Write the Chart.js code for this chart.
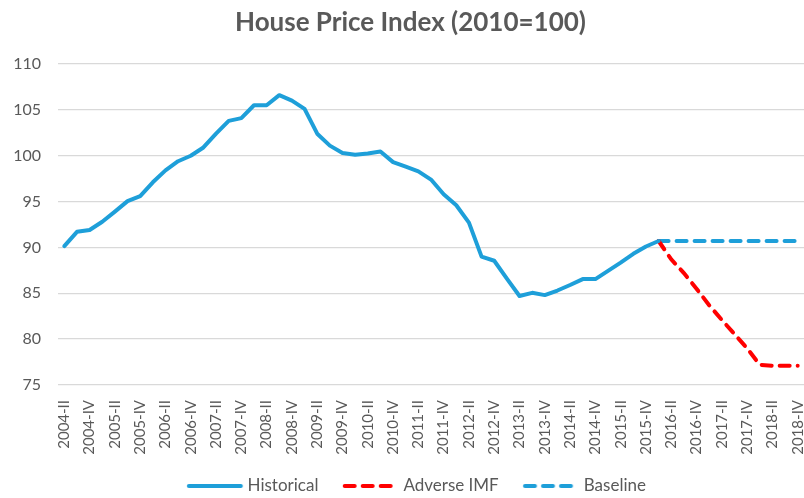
<!DOCTYPE html>
<html>
<head>
<meta charset="utf-8">
<script src="https://cdn.jsdelivr.net/npm/chart.js"></script>
<style>
  html, body { margin: 0; padding: 0; background: #fff; }
  #wrap { width: 804px; height: 498px; }
</style>
</head>
<body>
<div id="wrap"><canvas id="myChart"></canvas></div>
<script>
// quarters, 2004-II .. 2018-IV
const quarters = [
  "2004-II", "2004-III", "2004-IV",
  "2005-I", "2005-II", "2005-III", "2005-IV",
  "2006-I", "2006-II", "2006-III", "2006-IV",
  "2007-I", "2007-II", "2007-III", "2007-IV",
  "2008-I", "2008-II", "2008-III", "2008-IV",
  "2009-I", "2009-II", "2009-III", "2009-IV",
  "2010-I", "2010-II", "2010-III", "2010-IV",
  "2011-I", "2011-II", "2011-III", "2011-IV",
  "2012-I", "2012-II", "2012-III", "2012-IV",
  "2013-I", "2013-II", "2013-III", "2013-IV",
  "2014-I", "2014-II", "2014-III", "2014-IV",
  "2015-I", "2015-II", "2015-III", "2015-IV",
  "2016-I", "2016-II", "2016-III", "2016-IV",
  "2017-I", "2017-II", "2017-III", "2017-IV",
  "2018-I", "2018-II", "2018-III", "2018-IV",
];

const historical = [
  90.15, 91.7, 91.9, 92.8, 93.9, 95.05, 95.6, 97.1, 98.4, 99.4,
  100.0, 100.9, 102.4, 103.8, 104.1, 105.5, 105.5, 106.6, 106.0, 105.1,
  102.4, 101.1, 100.3, 100.1, 100.25, 100.45, 99.3, 98.8, 98.3, 97.4,
  95.8, 94.6, 92.7, 89.0, 88.55, 86.6, 84.7, 85.05, 84.8, 85.3,
  85.9, 86.55, 86.55, 87.45, 88.35, 89.3, 90.1, 90.7,
];

// forecasts start at 2016-I
const adverseIMF = [90.7, 88.7, 87.2, 85.5, 83.7, 82.1, 80.55, 79.0, 77.2, 77.1, 77.1, 77.1];
const baseline = [90.7, 90.7, 90.7, 90.7, 90.7, 90.7, 90.7, 90.7, 90.7, 90.7, 90.7, 90.7];

const yTicks = [75, 80, 85, 90, 95, 100, 105, 110];

const startAt = historical.length - 1;
const pad = (arr) => new Array(startAt).fill(null).concat(arr);

const grey = "#595959";
const blue = "#1E9FD9";
const red = "#FF0000";
const dash = [10, 8];
const fontName = "Lato, 'Open Sans', sans-serif";

// little line samples for the legend (excel style)
const legendLine = (color, lineDash) => {
  const c = document.createElement("canvas");
  c.width = 76;
  c.height = 8;
  const g = c.getContext("2d");
  g.strokeStyle = color;
  g.lineWidth = 4;
  g.lineCap = "round";
  g.setLineDash(lineDash);
  g.beginPath();
  g.moveTo(19.75, 4);
  g.lineTo(71.75, 4);
  g.stroke();
  return c;
};
const legendMarks = [legendLine(blue, []), legendLine(red, dash), legendLine(blue, dash)];

// y labels stick out left of the axis box, don't let them get clipped
const unclipY = {
  id: "unclipY",
  afterLayout(chart) {
    chart.scales.y.left = 0;
  },
};

var ctx = document.getElementById("myChart").getContext("2d");

var myChart = new Chart(ctx, {
  type: "line",
  data: {
    labels: quarters,
    datasets: [
      {
        label: "Historical",
        data: historical,
        borderColor: blue,
        backgroundColor: blue,
        borderWidth: 4,
        borderCapStyle: "round",
        borderJoinStyle: "round",
        pointRadius: 0,
        tension: 0,
      },
      {
        label: "Adverse IMF",
        data: pad(adverseIMF),
        borderColor: red,
        backgroundColor: red,
        borderWidth: 4,
        borderDash: dash,
        borderCapStyle: "round",
        pointRadius: 0,
        tension: 0,
      },
      {
        label: "Baseline",
        data: pad(baseline),
        borderColor: blue,
        backgroundColor: blue,
        borderWidth: 4,
        borderDash: dash,
        borderCapStyle: "round",
        pointRadius: 0,
        tension: 0,
      },
    ],
  },
  plugins: [unclipY],
  options: {
    responsive: true,
    maintainAspectRatio: false,
    animation: false,
    layout: { padding: { left: 17, right: 0, top: 0, bottom: -6.5 } },
    plugins: {
      title: {
        display: true,
        text: "House Price Index (2010=100)",
        color: grey,
        font: { family: fontName, size: 26, weight: "bold" },
        padding: { top: 7.4, bottom: 25.4 },
      },
      legend: {
        position: "bottom",
        labels: {
          usePointStyle: true,
          pointStyleWidth: 64,
          boxHeight: 10,
          padding: 12.5,
          color: grey,
          font: { family: fontName, size: 17 },
          generateLabels: (chart) => {
            const items = Chart.defaults.plugins.legend.labels.generateLabels(chart);
            items.forEach((item, i) => {
              item.pointStyle = legendMarks[i];
            });
            return items;
          },
        },
      },
      tooltip: { enabled: false },
    },
    scales: {
      x: {
        offset: true,
        grid: { display: false },
        border: { display: false },
        ticks: {
          autoSkip: false,
          maxRotation: 90,
          minRotation: 90,
          padding: 7,
          color: grey,
          font: { family: fontName, size: 15 },
          callback: function (value, index) {
            return index % 2 === 0 ? quarters[index] : "";
          },
        },
        afterFit: (s) => {
          s.height = 80;
          s.paddingLeft = 0;
          s.paddingRight = 0;
        },
      },
      y: {
        min: 75,
        max: 110,
        border: { display: false },
        grid: { color: "#D9D9D9", lineWidth: 1.3, drawTicks: false },
        afterBuildTicks: (s) => {
          s.ticks = yTicks.map((v) => ({ value: v }));
        },
        ticks: {
          padding: 17,
          color: grey,
          font: { family: fontName, size: 16 },
        },
        afterFit: (s) => {
          s.width = 41;
          s.paddingTop = 0;
          s.paddingBottom = 0;
        },
      },
    },
  },
});
</script>
</body>
</html>
